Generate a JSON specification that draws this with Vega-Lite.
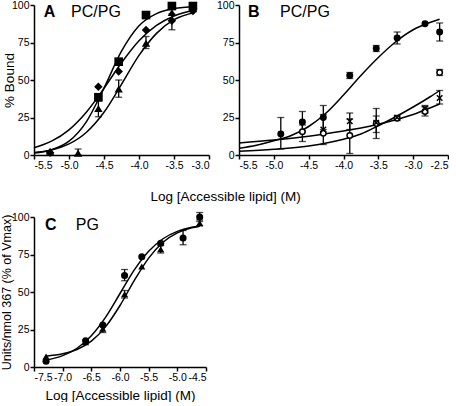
{
  "$schema": "https://vega.github.io/schema/vega-lite/v6.json",
  "padding": {"left": 0, "top": 0, "right": 0, "bottom": 0},
  "background": "white",
  "config": {
    "font": "Liberation Sans",
    "view": {"stroke": null},
    "axis": {"domainColor": "black", "domainWidth": 1.5, "tickColor": "black", "tickWidth": 1.5, "tickSize": 4, "tickCount": 12, "labelColor": "black", "labelFontSize": 10.5, "labelPadding": 1, "labelOverlap": false, "titleColor": "black", "titleFontSize": 13, "titleFontWeight": "normal", "grid": false},
    "title": {"color": "black", "fontSize": 13, "fontWeight": "normal"}
  },
  "datasets": {
    "curvesA": [
      {"series": "square", "x": -5.5, "y": 1.3}, {"series": "square", "x": -5.25, "y": 3.5}, {"series": "square", "x": -5.0, "y": 9.2}, {"series": "square", "x": -4.75, "y": 22.3}, {"series": "square", "x": -4.5, "y": 44.6}, {"series": "square", "x": -4.25, "y": 69.2}, {"series": "square", "x": -4.0, "y": 86.2}, {"series": "square", "x": -3.75, "y": 94.3}, {"series": "square", "x": -3.5, "y": 97.6}, {"series": "square", "x": -3.2, "y": 98.9},
      {"series": "diamond", "x": -5.5, "y": 4.8}, {"series": "diamond", "x": -5.25, "y": 9.2}, {"series": "diamond", "x": -5.0, "y": 16.8}, {"series": "diamond", "x": -4.75, "y": 28.7}, {"series": "diamond", "x": -4.5, "y": 44.5}, {"series": "diamond", "x": -4.25, "y": 61.5}, {"series": "diamond", "x": -4.0, "y": 76.2}, {"series": "diamond", "x": -3.75, "y": 86.4}, {"series": "diamond", "x": -3.5, "y": 92.7}, {"series": "diamond", "x": -3.2, "y": 96.7},
      {"series": "triangle", "x": -5.5, "y": 1.6}, {"series": "triangle", "x": -5.25, "y": 3.4}, {"series": "triangle", "x": -5.0, "y": 7.4}, {"series": "triangle", "x": -4.75, "y": 15.2}, {"series": "triangle", "x": -4.5, "y": 28.5}, {"series": "triangle", "x": -4.25, "y": 47.1}, {"series": "triangle", "x": -4.0, "y": 66.4}, {"series": "triangle", "x": -3.75, "y": 81.1}, {"series": "triangle", "x": -3.5, "y": 90.2}, {"series": "triangle", "x": -3.2, "y": 95.0}
    ],
    "pointsA": [
      {"series": "square", "x": -4.58, "y": 38.5, "lo": null, "hi": null},
      {"series": "square", "x": -4.29, "y": 62.2, "lo": null, "hi": null},
      {"series": "square", "x": -3.90, "y": 93.3, "lo": null, "hi": null},
      {"series": "square", "x": -3.53, "y": 99.3, "lo": null, "hi": null},
      {"series": "square", "x": -3.23, "y": 99.3, "lo": null, "hi": null},
      {"series": "diamond", "x": -5.27, "y": 1.5, "lo": null, "hi": null},
      {"series": "diamond", "x": -4.58, "y": 45.5, "lo": null, "hi": null},
      {"series": "diamond", "x": -4.29, "y": 55.6, "lo": null, "hi": null},
      {"series": "diamond", "x": -3.90, "y": 83.3, "lo": null, "hi": null},
      {"series": "diamond", "x": -3.53, "y": 89.5, "lo": 83.5, "hi": 94},
      {"series": "diamond", "x": -3.23, "y": 96.0, "lo": null, "hi": null},
      {"series": "triangle", "x": -5.27, "y": 2.5, "lo": null, "hi": null},
      {"series": "triangle", "x": -4.87, "y": 1.3, "lo": 0, "hi": 4},
      {"series": "triangle", "x": -4.58, "y": 31.0, "lo": 25.5, "hi": 36},
      {"series": "triangle", "x": -4.29, "y": 44.0, "lo": 38.5, "hi": 50},
      {"series": "triangle", "x": -3.90, "y": 74.5, "lo": 71, "hi": 79},
      {"series": "triangle", "x": -3.53, "y": 95.0, "lo": null, "hi": null},
      {"series": "triangle", "x": -3.23, "y": 97.5, "lo": null, "hi": null}
    ],
    "labelsA": [
      {"x": -5.36, "y": 95.5, "text": "A", "part": "letter"},
      {"x": -4.97, "y": 95.5, "text": "PC/PG", "part": "name"}
    ],
    "curvesB": [
      {"series": "filled", "x": -5.5, "y": 4.5}, {"series": "filled", "x": -5.25, "y": 6.5}, {"series": "filled", "x": -5.0, "y": 9.5}, {"series": "filled", "x": -4.75, "y": 13.0}, {"series": "filled", "x": -4.5, "y": 19.0}, {"series": "filled", "x": -4.25, "y": 28.0}, {"series": "filled", "x": -4.0, "y": 40.0}, {"series": "filled", "x": -3.75, "y": 53.0}, {"series": "filled", "x": -3.5, "y": 65.0}, {"series": "filled", "x": -3.25, "y": 75.5}, {"series": "filled", "x": -3.0, "y": 83.5}, {"series": "filled", "x": -2.75, "y": 88.5}, {"series": "filled", "x": -2.62, "y": 90.5},
      {"series": "open", "x": -5.5, "y": 2.5}, {"series": "open", "x": -5.0, "y": 3.8}, {"series": "open", "x": -4.5, "y": 6.0}, {"series": "open", "x": -4.0, "y": 10.5}, {"series": "open", "x": -3.75, "y": 14.0}, {"series": "open", "x": -3.5, "y": 19.5}, {"series": "open", "x": -3.25, "y": 25.5}, {"series": "open", "x": -3.0, "y": 32.0}, {"series": "open", "x": -2.75, "y": 39.0}, {"series": "open", "x": -2.62, "y": 43.0},
      {"series": "cross", "x": -5.5, "y": 8.0}, {"series": "cross", "x": -5.0, "y": 10.0}, {"series": "cross", "x": -4.5, "y": 12.5}, {"series": "cross", "x": -4.0, "y": 16.0}, {"series": "cross", "x": -3.75, "y": 18.0}, {"series": "cross", "x": -3.5, "y": 20.5}, {"series": "cross", "x": -3.25, "y": 23.5}, {"series": "cross", "x": -3.0, "y": 27.0}, {"series": "cross", "x": -2.75, "y": 31.5}, {"series": "cross", "x": -2.62, "y": 34.0}
    ],
    "pointsB": [
      {"series": "filled", "x": -4.90, "y": 14.0, "lo": 4, "hi": 25},
      {"series": "filled", "x": -4.59, "y": 22.0, "lo": 16, "hi": 29},
      {"series": "filled", "x": -4.29, "y": 25.0, "lo": 17, "hi": 33},
      {"series": "filled", "x": -3.91, "y": 53.0, "lo": 51, "hi": 55},
      {"series": "filled", "x": -3.53, "y": 71.0, "lo": 69, "hi": 73},
      {"series": "filled", "x": -3.23, "y": 78.0, "lo": 74, "hi": 82},
      {"series": "filled", "x": -2.83, "y": 87.5, "lo": null, "hi": null},
      {"series": "filled", "x": -2.62, "y": 82.0, "lo": 76, "hi": 88},
      {"series": "open", "x": -4.59, "y": 15.5, "lo": 9, "hi": 20},
      {"series": "open", "x": -4.29, "y": 14.5, "lo": null, "hi": null},
      {"series": "open", "x": -3.91, "y": 13.0, "lo": 1, "hi": 24},
      {"series": "open", "x": -3.53, "y": 21.0, "lo": 15, "hi": 26},
      {"series": "open", "x": -3.23, "y": 24.5, "lo": 23, "hi": 26},
      {"series": "open", "x": -2.83, "y": 29.0, "lo": 26, "hi": 32},
      {"series": "open", "x": -2.62, "y": 55.0, "lo": 53, "hi": 57},
      {"series": "cross", "x": -4.29, "y": 17.0, "lo": 7, "hi": 27},
      {"series": "cross", "x": -3.91, "y": 22.5, "lo": 17, "hi": 28},
      {"series": "cross", "x": -3.53, "y": 21.5, "lo": 11, "hi": 31},
      {"series": "cross", "x": -3.23, "y": 25.0, "lo": null, "hi": null},
      {"series": "cross", "x": -2.83, "y": 31.0, "lo": 28, "hi": 33},
      {"series": "cross", "x": -2.62, "y": 38.0, "lo": 34, "hi": 43}
    ],
    "labelsB": [
      {"x": -5.37, "y": 95.5, "text": "B", "part": "letter"},
      {"x": -4.91, "y": 95.5, "text": "PC/PG", "part": "name"}
    ],
    "curvesC": [
      {"series": "circle", "x": -7.3, "y": 4.5}, {"series": "circle", "x": -7.0, "y": 7.6}, {"series": "circle", "x": -6.75, "y": 12.5}, {"series": "circle", "x": -6.5, "y": 20.9}, {"series": "circle", "x": -6.25, "y": 33.3}, {"series": "circle", "x": -6.0, "y": 49.0}, {"series": "circle", "x": -5.75, "y": 64.7}, {"series": "circle", "x": -5.5, "y": 77.1}, {"series": "circle", "x": -5.25, "y": 85.5}, {"series": "circle", "x": -5.0, "y": 90.4}, {"series": "circle", "x": -4.75, "y": 93.1}, {"series": "circle", "x": -4.61, "y": 94.0},
      {"series": "triangle", "x": -7.3, "y": 7.2}, {"series": "triangle", "x": -7.0, "y": 8.8}, {"series": "triangle", "x": -6.75, "y": 11.7}, {"series": "triangle", "x": -6.5, "y": 17.2}, {"series": "triangle", "x": -6.25, "y": 26.9}, {"series": "triangle", "x": -6.0, "y": 41.0}, {"series": "triangle", "x": -5.75, "y": 57.7}, {"series": "triangle", "x": -5.5, "y": 72.6}, {"series": "triangle", "x": -5.25, "y": 83.2}, {"series": "triangle", "x": -5.0, "y": 89.4}, {"series": "triangle", "x": -4.75, "y": 92.8}, {"series": "triangle", "x": -4.61, "y": 93.9}
    ],
    "pointsC": [
      {"series": "circle", "x": -7.29, "y": 3.8, "lo": null, "hi": null},
      {"series": "circle", "x": -6.60, "y": 17.5, "lo": null, "hi": null},
      {"series": "circle", "x": -6.30, "y": 28.0, "lo": null, "hi": null},
      {"series": "circle", "x": -5.92, "y": 61.0, "lo": 57.5, "hi": 65},
      {"series": "circle", "x": -5.62, "y": 73.5, "lo": null, "hi": null},
      {"series": "circle", "x": -5.29, "y": 82.5, "lo": null, "hi": null},
      {"series": "circle", "x": -4.90, "y": 86.0, "lo": 81.5, "hi": 91},
      {"series": "circle", "x": -4.61, "y": 100.0, "lo": 97, "hi": 103},
      {"series": "triangle", "x": -7.29, "y": 7.0, "lo": null, "hi": null},
      {"series": "triangle", "x": -6.60, "y": 16.5, "lo": null, "hi": null},
      {"series": "triangle", "x": -6.30, "y": 25.5, "lo": 23, "hi": 28},
      {"series": "triangle", "x": -5.92, "y": 48.5, "lo": 46, "hi": 51},
      {"series": "triangle", "x": -5.62, "y": 67.0, "lo": null, "hi": null},
      {"series": "triangle", "x": -5.29, "y": 78.5, "lo": 76, "hi": 81},
      {"series": "triangle", "x": -4.61, "y": 96.0, "lo": 94, "hi": 98}
    ],
    "labelsC": [
      {"x": -7.31, "y": 95, "text": "C", "part": "letter"},
      {"x": -6.77, "y": 95, "text": "PG", "part": "name"}
    ]
  },
  "bounds": "full",
  "spacing": 8,
  "resolve": {"scale": {"shape": "independent", "size": "independent", "fill": "independent"}},
  "vconcat": [
    {
      "bounds": "flush",
      "spacing": 30,
      "resolve": {"scale": {"shape": "independent", "size": "independent", "fill": "independent"}},
      "title": {"text": "Log [Accessible lipid] (M)", "orient": "bottom", "anchor": "middle", "offset": 19, "fontSize": 13.5},
      "hconcat": [
        {
          "width": 175,
          "height": 150,
          "layer": [
            {
              "data": {"name": "curvesA"},
              "mark": {"type": "line", "interpolate": "monotone", "color": "black", "strokeWidth": 1.5},
              "encoding": {
                "x": {"field": "x", "type": "quantitative", "scale": {"domain": [-5.5, -3.0], "nice": false, "zero": false}, "axis": {"values": [-5.5, -5.0, -4.5, -4.0, -3.5, -3.0], "tickCount": 12, "labelOverlap": false, "labelExpr": "replace(format(datum.value, '.1f'), '\u2212', '-')", "title": null}},
                "y": {"field": "y", "type": "quantitative", "scale": {"domain": [0, 100], "nice": false}, "axis": {"values": [0, 25, 50, 75, 100], "tickCount": 12, "labelOverlap": false, "title": "% Bound", "titleFontSize": 13.5, "titlePadding": -5}},
                "detail": {"field": "series"}
              }
            },
            {
              "data": {"name": "pointsA"},
              "mark": {"type": "rule", "color": "black", "strokeWidth": 1.3},
              "encoding": {"x": {"field": "x", "type": "quantitative"}, "y": {"field": "lo", "type": "quantitative"}, "y2": {"field": "hi"}}
            },
            {
              "data": {"name": "pointsA"},
              "mark": {"type": "tick", "orient": "horizontal", "size": 7, "thickness": 1.3, "color": "black"},
              "encoding": {"x": {"field": "x", "type": "quantitative"}, "y": {"field": "lo", "type": "quantitative"}}
            },
            {
              "data": {"name": "pointsA"},
              "mark": {"type": "tick", "orient": "horizontal", "size": 7, "thickness": 1.3, "color": "black"},
              "encoding": {"x": {"field": "x", "type": "quantitative"}, "y": {"field": "hi", "type": "quantitative"}}
            },
            {
              "data": {"name": "pointsA"},
              "mark": {"type": "point", "filled": true, "color": "black", "opacity": 1},
              "encoding": {
                "x": {"field": "x", "type": "quantitative"},
                "y": {"field": "y", "type": "quantitative"},
                "shape": {"field": "series", "type": "nominal", "scale": {"domain": ["square", "diamond", "triangle"], "range": ["square", "diamond", "triangle-up"]}, "legend": null},
                "size": {"field": "series", "type": "nominal", "scale": {"domain": ["square", "diamond", "triangle"], "range": [75, 70, 55]}, "legend": null}
              }
            },
            {
              "data": {"name": "labelsA"},
              "transform": [{"filter": "datum.part == 'letter'"}],
              "mark": {"type": "text", "align": "left", "baseline": "middle", "fontSize": 16, "fontWeight": "bold", "color": "black"},
              "encoding": {"x": {"field": "x", "type": "quantitative"}, "y": {"field": "y", "type": "quantitative"}, "text": {"field": "text"}}
            },
            {
              "data": {"name": "labelsA"},
              "transform": [{"filter": "datum.part == 'name'"}],
              "mark": {"type": "text", "align": "left", "baseline": "middle", "fontSize": 16, "color": "black"},
              "encoding": {"x": {"field": "x", "type": "quantitative"}, "y": {"field": "y", "type": "quantitative"}, "text": {"field": "text"}}
            }
          ]
        },
        {
          "width": 209,
          "height": 150,
          "layer": [
            {
              "data": {"name": "curvesB"},
              "mark": {"type": "line", "interpolate": "monotone", "color": "black", "strokeWidth": 1.5},
              "encoding": {
                "x": {"field": "x", "type": "quantitative", "scale": {"domain": [-5.5, -2.5], "nice": false, "zero": false}, "axis": {"values": [-5.5, -5.0, -4.5, -4.0, -3.5, -3.0, -2.5], "tickCount": 12, "labelOverlap": false, "labelExpr": "replace(format(datum.value, '.1f'), '\u2212', '-')", "title": null}},
                "y": {"field": "y", "type": "quantitative", "scale": {"domain": [0, 100], "nice": false}, "axis": {"values": [0, 25, 50, 75, 100], "tickCount": 12, "labelOverlap": false, "title": null}},
                "detail": {"field": "series"}
              }
            },
            {
              "data": {"name": "pointsB"},
              "mark": {"type": "rule", "color": "black", "strokeWidth": 1.3},
              "encoding": {"x": {"field": "x", "type": "quantitative"}, "y": {"field": "lo", "type": "quantitative"}, "y2": {"field": "hi"}}
            },
            {
              "data": {"name": "pointsB"},
              "mark": {"type": "tick", "orient": "horizontal", "size": 7, "thickness": 1.3, "color": "black"},
              "encoding": {"x": {"field": "x", "type": "quantitative"}, "y": {"field": "lo", "type": "quantitative"}}
            },
            {
              "data": {"name": "pointsB"},
              "mark": {"type": "tick", "orient": "horizontal", "size": 7, "thickness": 1.3, "color": "black"},
              "encoding": {"x": {"field": "x", "type": "quantitative"}, "y": {"field": "hi", "type": "quantitative"}}
            },
            {
              "data": {"name": "pointsB"},
              "mark": {"type": "point", "filled": true, "stroke": "black", "strokeWidth": 1.5, "opacity": 1},
              "encoding": {
                "x": {"field": "x", "type": "quantitative"},
                "y": {"field": "y", "type": "quantitative"},
                "shape": {"field": "series", "type": "nominal", "scale": {"domain": ["filled", "open", "cross"], "range": ["circle", "circle", "M-1,-1L1,1M-1,1L1,-1"]}, "legend": null},
                "fill": {"field": "series", "type": "nominal", "scale": {"domain": ["filled", "open", "cross"], "range": ["black", "white", "transparent"]}, "legend": null},
                "size": {"field": "series", "type": "nominal", "scale": {"domain": ["filled", "open", "cross"], "range": [30, 30, 40]}, "legend": null}
              }
            },
            {
              "data": {"name": "labelsB"},
              "transform": [{"filter": "datum.part == 'letter'"}],
              "mark": {"type": "text", "align": "left", "baseline": "middle", "fontSize": 16, "fontWeight": "bold", "color": "black"},
              "encoding": {"x": {"field": "x", "type": "quantitative"}, "y": {"field": "y", "type": "quantitative"}, "text": {"field": "text"}}
            },
            {
              "data": {"name": "labelsB"},
              "transform": [{"filter": "datum.part == 'name'"}],
              "mark": {"type": "text", "align": "left", "baseline": "middle", "fontSize": 16, "color": "black"},
              "encoding": {"x": {"field": "x", "type": "quantitative"}, "y": {"field": "y", "type": "quantitative"}, "text": {"field": "text"}}
            }
          ]
        }
      ]
    },
    {
      "width": 172,
      "height": 150,
      "layer": [
        {
          "data": {"name": "curvesC"},
          "mark": {"type": "line", "interpolate": "monotone", "color": "black", "strokeWidth": 1.5},
          "encoding": {
            "x": {"field": "x", "type": "quantitative", "scale": {"domain": [-7.5, -4.5], "nice": false, "zero": false}, "axis": {"values": [-7.5, -7.0, -6.5, -6.0, -5.5, -5.0, -4.5], "tickCount": 12, "labelOverlap": false, "labelExpr": "replace(format(datum.value, '.1f'), '\u2212', '-')", "title": "Log [Accessible lipid] (M)", "titleFontSize": 13.5, "titlePadding": 6}},
            "y": {"field": "y", "type": "quantitative", "scale": {"domain": [0, 100], "nice": false}, "axis": {"values": [0, 25, 50, 75, 100], "tickCount": 12, "labelOverlap": false, "title": "Units/nmol 367 (% of Vmax)", "titleFontSize": 12.5, "titlePadding": -2}},
            "detail": {"field": "series"}
          }
        },
        {
          "data": {"name": "pointsC"},
          "mark": {"type": "rule", "color": "black", "strokeWidth": 1.3},
          "encoding": {"x": {"field": "x", "type": "quantitative"}, "y": {"field": "lo", "type": "quantitative"}, "y2": {"field": "hi"}}
        },
        {
          "data": {"name": "pointsC"},
          "mark": {"type": "tick", "orient": "horizontal", "size": 7, "thickness": 1.3, "color": "black"},
          "encoding": {"x": {"field": "x", "type": "quantitative"}, "y": {"field": "lo", "type": "quantitative"}}
        },
        {
          "data": {"name": "pointsC"},
          "mark": {"type": "tick", "orient": "horizontal", "size": 7, "thickness": 1.3, "color": "black"},
          "encoding": {"x": {"field": "x", "type": "quantitative"}, "y": {"field": "hi", "type": "quantitative"}}
        },
        {
          "data": {"name": "pointsC"},
          "mark": {"type": "point", "filled": true, "color": "black", "opacity": 1},
          "encoding": {
            "x": {"field": "x", "type": "quantitative"},
            "y": {"field": "y", "type": "quantitative"},
            "shape": {"field": "series", "type": "nominal", "scale": {"domain": ["circle", "triangle"], "range": ["circle", "triangle-up"]}, "legend": null},
            "size": {"field": "series", "type": "nominal", "scale": {"domain": ["circle", "triangle"], "range": [50, 50]}, "legend": null}
          }
        },
        {
          "data": {"name": "labelsC"},
          "transform": [{"filter": "datum.part == 'letter'"}],
          "mark": {"type": "text", "align": "left", "baseline": "middle", "fontSize": 16, "fontWeight": "bold", "color": "black"},
          "encoding": {"x": {"field": "x", "type": "quantitative"}, "y": {"field": "y", "type": "quantitative"}, "text": {"field": "text"}}
        },
        {
          "data": {"name": "labelsC"},
          "transform": [{"filter": "datum.part == 'name'"}],
          "mark": {"type": "text", "align": "left", "baseline": "middle", "fontSize": 16, "color": "black"},
          "encoding": {"x": {"field": "x", "type": "quantitative"}, "y": {"field": "y", "type": "quantitative"}, "text": {"field": "text"}}
        }
      ]
    }
  ]
}
